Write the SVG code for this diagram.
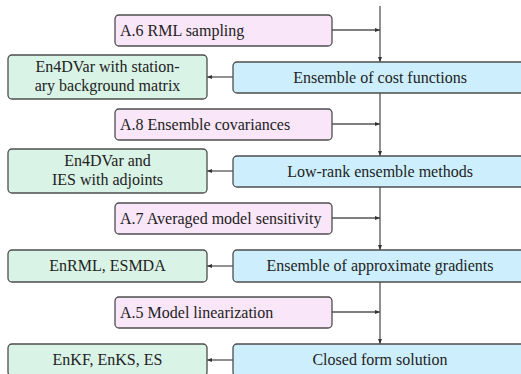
<svg xmlns="http://www.w3.org/2000/svg" width="521" height="374" viewBox="0 0 521 374">
<defs>
<marker id="ah" markerWidth="6" markerHeight="6" refX="5" refY="3" orient="auto" markerUnits="userSpaceOnUse">
<path d="M0,1 L5,3 L0,5 z" fill="#333"/>
</marker>
<style>
.box{stroke:#4d4d4d;stroke-width:1.3}
.pink{fill:#f9e6f8}
.blue{fill:#cdeffd}
.green{fill:#d9f3e6}
text{font-family:"Liberation Serif","Times New Roman",serif;font-size:16px;fill:#222}
.c{text-anchor:middle}
.conn{stroke:#555;stroke-width:1.3;fill:none}
</style>
</defs>
<rect width="521" height="374" fill="#fff"/>
<g id="connectors">
<path class="conn" d="M380,6 V62" marker-end="url(#ah)"/>
<path class="conn" d="M380,93 V156" marker-end="url(#ah)"/>
<path class="conn" d="M380,187 V250" marker-end="url(#ah)"/>
<path class="conn" d="M380,282 V344" marker-end="url(#ah)"/>
<path class="conn" d="M332,30 H380" marker-end="url(#ah)"/>
<path class="conn" d="M332,124 H380" marker-end="url(#ah)"/>
<path class="conn" d="M332,218 H380" marker-end="url(#ah)"/>
<path class="conn" d="M332,312 H380" marker-end="url(#ah)"/>
<path class="conn" d="M233,77 H207" marker-end="url(#ah)"/>
<path class="conn" d="M233,171 H207" marker-end="url(#ah)"/>
<path class="conn" d="M233,266 H207" marker-end="url(#ah)"/>
<path class="conn" d="M233,360 H207" marker-end="url(#ah)"/>
</g>
<g id="p1"><rect class="box pink" x="115" y="15" width="217" height="31" rx="4"/><text x="120" y="36">A.6 RML sampling</text></g>
<g id="p2"><rect class="box pink" x="115" y="109" width="217" height="31" rx="4"/><text x="120" y="130">A.8 Ensemble covariances</text></g>
<g id="p3"><rect class="box pink" x="115" y="203" width="217" height="31" rx="4"/><text x="120" y="224">A.7 Averaged model sensitivity</text></g>
<g id="p4"><rect class="box pink" x="115" y="297" width="217" height="31" rx="4"/><text x="120" y="318">A.5 Model linearization</text></g>
<g id="b1"><rect class="box blue" x="233" y="62" width="294" height="31" rx="4"/><text class="c" x="380" y="83">Ensemble of cost functions</text></g>
<g id="b2"><rect class="box blue" x="233" y="156" width="294" height="31" rx="4"/><text class="c" x="380" y="177">Low-rank ensemble methods</text></g>
<g id="b3"><rect class="box blue" x="233" y="250" width="294" height="32" rx="4"/><text class="c" x="380" y="271">Ensemble of approximate gradients</text></g>
<g id="b4"><rect class="box blue" x="233" y="344" width="294" height="32" rx="4"/><text class="c" x="380" y="365">Closed form solution</text></g>
<g id="g1"><rect class="box green" x="8" y="55" width="199" height="44" rx="4"/><text class="c" x="107.5" y="71.5">En4DVar with station-</text><text class="c" x="107.5" y="90.5">ary background matrix</text></g>
<g id="g2"><rect class="box green" x="8" y="149" width="199" height="44" rx="4"/><text class="c" x="107.5" y="165.5">En4DVar and</text><text class="c" x="107.5" y="184.5">IES with adjoints</text></g>
<g id="g3"><rect class="box green" x="8" y="250" width="199" height="32" rx="4"/><text class="c" x="107.5" y="271">EnRML, ESMDA</text></g>
<g id="g4"><rect class="box green" x="8" y="344" width="199" height="32" rx="4"/><text class="c" x="107.5" y="365">EnKF, EnKS, ES</text></g>
</svg>
